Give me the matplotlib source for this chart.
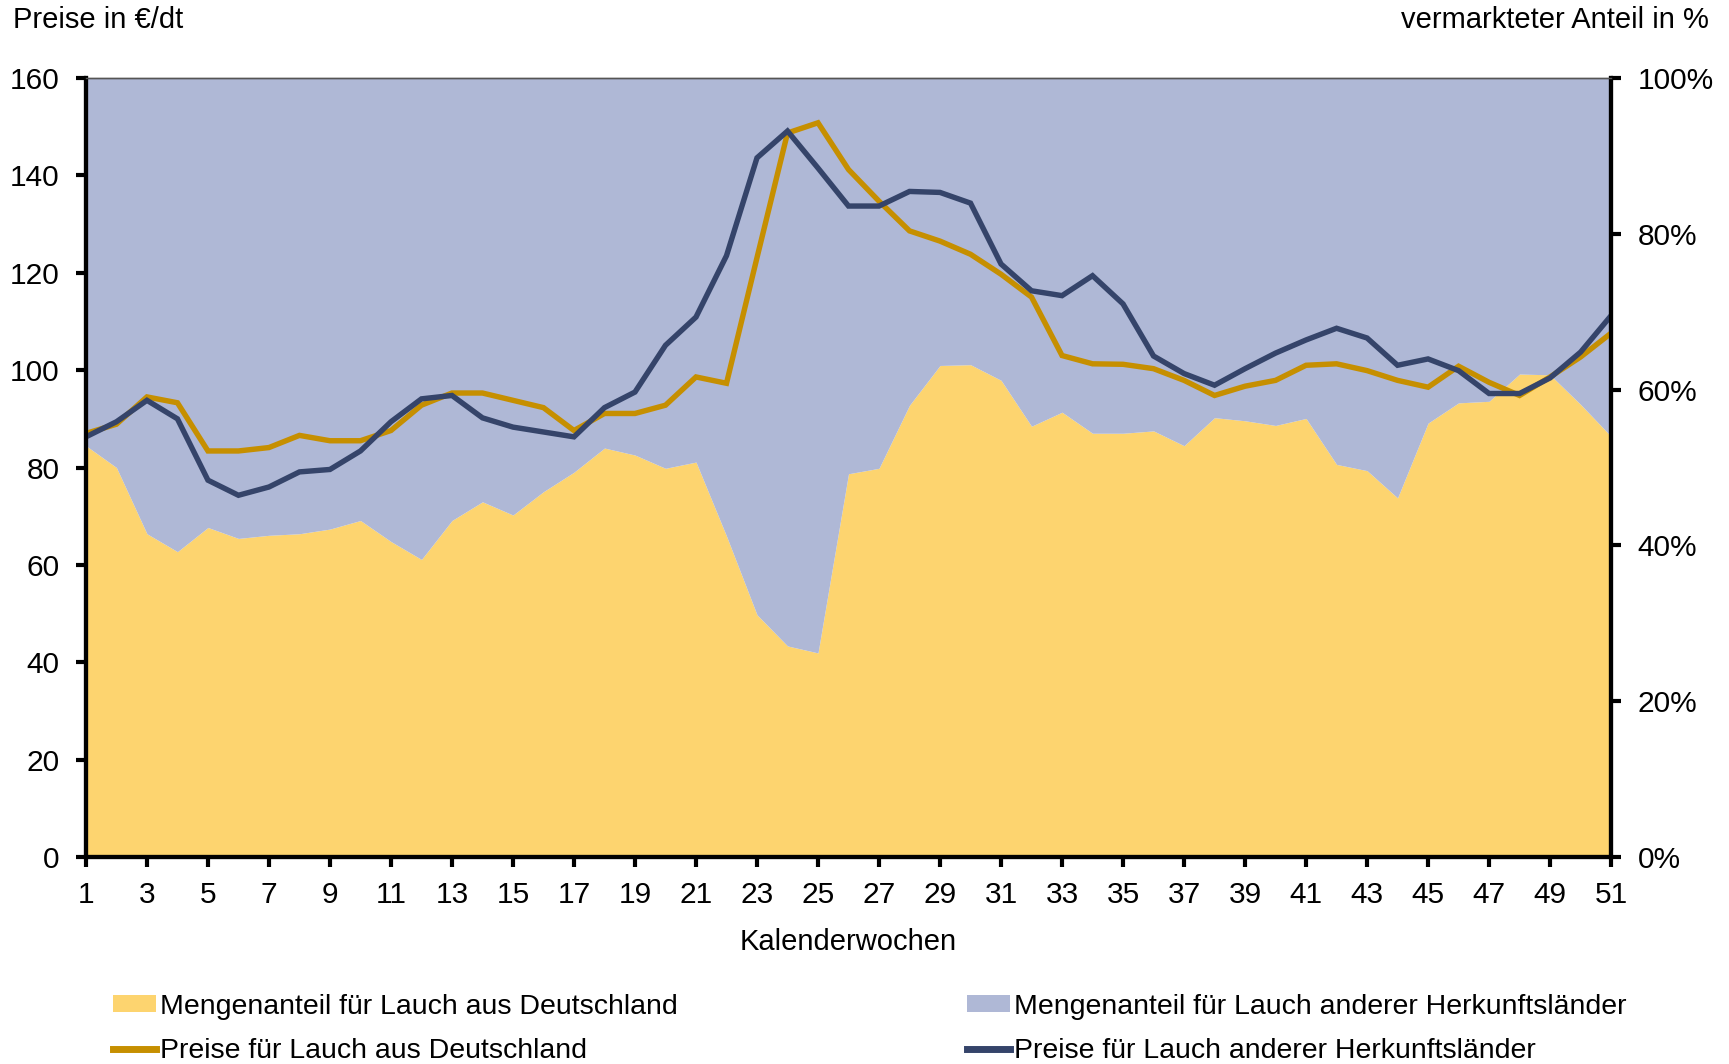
import matplotlib
matplotlib.use('Agg')
import matplotlib.pyplot as plt
from matplotlib.patches import Patch
from matplotlib.lines import Line2D

plt.rcParams['font.family'] = ['Liberation Sans', 'DejaVu Sans']

# Kalenderwochen 1-51
weeks = list(range(1, 52))

# Mengenanteil Lauch aus Deutschland in %
share_de = [52.8, 50.0, 41.5, 39.2, 42.3, 40.9, 41.3, 41.5, 42.1, 43.2,
            40.5, 38.2, 43.2, 45.6, 43.9, 46.9, 49.4, 52.5, 51.6, 49.9,
            50.7, 41.2, 31.1, 27.1, 26.2, 49.2, 49.9, 58.0, 63.1, 63.2,
            61.2, 55.3, 57.1, 54.4, 54.4, 54.7, 52.8, 56.4, 56.0, 55.4,
            56.3, 50.4, 49.6, 46.1, 55.7, 58.3, 58.5, 62.0, 61.9, 58.1,
            54.0]

# Preise Lauch aus Deutschland in EUR/dt
price_de = [87.0, 88.9, 94.5, 93.3, 83.4, 83.4, 84.1, 86.6, 85.5, 85.5,
            87.6, 92.8, 95.3, 95.3, 93.8, 92.3, 87.6, 91.1, 91.1, 92.8,
            98.6, 97.3, 123.1, 148.7, 150.8, 141.2, 134.7, 128.6, 126.5, 123.8,
            119.7, 115.0, 103.0, 101.3, 101.2, 100.3, 97.9, 94.8, 96.7, 97.9,
            101.0, 101.3, 99.9, 97.9, 96.5, 100.8, 97.5, 94.8, 98.6, 102.7,
            107.6]

# Preise Lauch anderer Herkunftslaender in EUR/dt
price_other = [86.3, 89.4, 93.8, 90.0, 77.4, 74.3, 76.0, 79.1, 79.6, 83.4,
               89.4, 94.1, 94.8, 90.2, 88.3, 87.3, 86.3, 92.3, 95.5, 105.1,
               110.9, 123.5, 143.6, 149.1, 141.5, 133.7, 133.7, 136.7, 136.5, 134.3,
               121.8, 116.3, 115.3, 119.4, 113.6, 102.9, 99.3, 96.9, 100.3, 103.5,
               106.2, 108.6, 106.6, 101.0, 102.3, 99.9, 95.2, 95.2, 98.4, 103.7,
               111.2]

yellow = '#FDD46F'
lightblue = '#AFB8D6'
orange = '#C68F00'
navy = '#35446A'

fig = plt.figure(figsize=(17.29, 10.64), dpi=100)
ax = fig.add_axes([0.0497, 0.1945, 0.8821, 0.7322])

# areas (percentage) on the primary axes so they are drawn behind the prices
ax.fill_between(weeks, 0, share_de, color=yellow, lw=0)
ax.fill_between(weeks, share_de, 100, color=lightblue, lw=0)
ax.set_ylim(0, 100)
ax.set_xlim(1, 51)

ax2 = ax.twinx()
ax2.plot(weeks, price_de, color=orange, lw=3.9, solid_joinstyle='miter')
ax2.plot(weeks, price_other, color=navy, lw=3.9, solid_joinstyle='miter')
ax2.set_ylim(0, 160)
ax2.set_yticks(range(0, 161, 20))
ax2.yaxis.tick_left()

ax.yaxis.tick_right()
ax.set_yticks(range(0, 101, 20))
ax.set_yticklabels([f'{v}%' for v in range(0, 101, 20)])

ax.set_xticks(range(1, 52, 2))
ax.set_xlabel('Kalenderwochen', fontsize=21, labelpad=14)

for a in (ax, ax2):
    a.tick_params(labelsize=21.5, width=3, length=7, pad=12, direction='out')
    a.spines['top'].set_linewidth(1)
    a.spines['top'].set_color('#555555')
    for s in ('left', 'right', 'bottom'):
        a.spines[s].set_linewidth(3)
ax.tick_params(axis='x', pad=10)

fig.text(0.0075, 0.981, 'Preise in €/dt', fontsize=21, va='center', ha='left')
fig.text(0.9885, 0.981, 'vermarkteter Anteil in %', fontsize=21, va='center', ha='right')

handles = [Patch(facecolor=yellow, edgecolor='none'),
           Line2D([], [], color=orange, lw=5),
           Patch(facecolor=lightblue, edgecolor='none'),
           Line2D([], [], color=navy, lw=5)]
labels = ['Mengenanteil für Lauch aus Deutschland',
          'Preise für Lauch aus Deutschland',
          'Mengenanteil für Lauch anderer Herkunftsländer',
          'Preise für Lauch anderer Herkunftsländer']
fig.legend(handles, labels, ncol=2, loc='upper left', bbox_to_anchor=(0.0655, 0.066),
           frameon=False, fontsize=20.5, handlelength=1.5, handleheight=0.55,
           handletextpad=0.15, columnspacing=10.15, labelspacing=0.65,
           borderaxespad=0, borderpad=0)

fig.savefig('out.png', dpi=100)
